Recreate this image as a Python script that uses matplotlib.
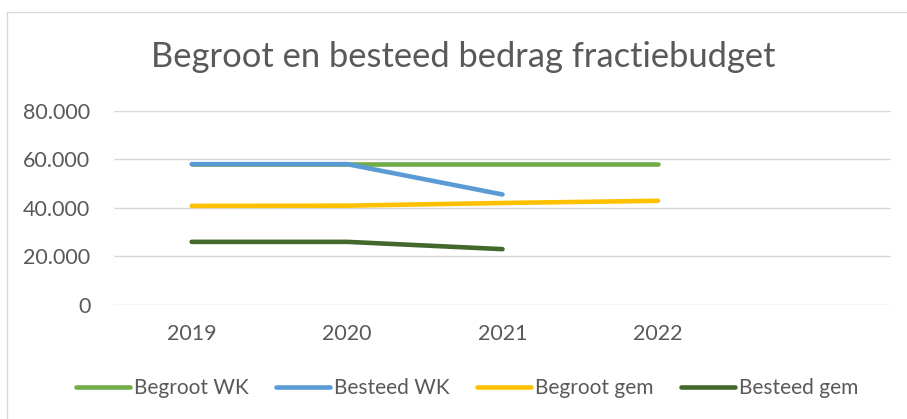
import matplotlib
matplotlib.use("Agg")
import matplotlib.pyplot as plt
from matplotlib.lines import Line2D
from matplotlib.ticker import FuncFormatter

plt.rcParams['font.family'] = ['Lato', 'DejaVu Sans']

years = ["2019", "2020", "2021", "2022", ""]
begroot_wk = [58000, 58000, 58000, 58000]
besteed_wk = [58000, 58000, 45500]
begroot_gem = [40800, 40900, 42000, 42900]
besteed_gem = [26000, 26000, 23000]

series = [
    ("Begroot WK", begroot_wk, "#70AD47"),
    ("Besteed WK", besteed_wk, "#5B9BD5"),
    ("Begroot gem", begroot_gem, "#FFC000"),
    ("Besteed gem", besteed_gem, "#43682B"),
]
yticks = [0, 20000, 40000, 60000, 80000]

W, H = 907, 419
fig = plt.figure(figsize=(W / 100, H / 100), dpi=100)
fig.patch.set_facecolor("white")

# chart border (top and left visible)
fig.add_artist(Line2D([6.5 / W, 6.5 / W], [0, 1 - 12 / H], color="#D9D9D9", lw=1.0))
fig.add_artist(Line2D([6.5 / W, 1], [1 - 12 / H, 1 - 12 / H], color="#D9D9D9", lw=1.0))

left, right = 114 / W, 891 / W
top, bottom = 1 - 110.7 / H, 1 - 305 / H
ax = fig.add_axes([left, bottom, right - left, top - bottom])

x = list(range(len(years)))
for name, vals, col in series:
    ax.plot(x[:len(vals)], vals, color=col, lw=3.3, solid_capstyle="round",
            solid_joinstyle="round", label=name)

ax.set_xlim(-0.5, len(years) - 0.5)
ax.set_ylim(0, 80000)
ax.set_yticks(yticks)
ax.yaxis.set_major_formatter(FuncFormatter(lambda v, p: "0" if v == 0 else f"{int(v):,}".replace(",", ".")))
ax.set_xticks(x)
ax.set_xticklabels(years)
ax.grid(axis="y", color="#D9D9D9", lw=1.0)
ax.set_axisbelow(True)
for s in ax.spines.values():
    s.set_visible(False)
ax.tick_params(axis="both", length=0, labelsize=15.5, colors="#595959")
ax.tick_params(axis="y", pad=17)
ax.tick_params(axis="x", pad=14)

fig.text(463 / W, 1 - 57 / H, "Begroot en besteed bedrag fractiebudget",
         ha="center", va="center", fontsize=24.8, color="#595959")

handles = [Line2D([0], [0], color=c, lw=3.3, solid_capstyle="round") for _, _, c in series]
fig.legend(handles, [n for n, _, _ in series], loc="center", bbox_to_anchor=(467 / W, 1 - 388 / H),
           ncol=4, frameon=False, fontsize=15, labelcolor="#595959", handlelength=2.6,
           handletextpad=0.2, columnspacing=1.3)

fig.savefig("out.png", dpi=100)
